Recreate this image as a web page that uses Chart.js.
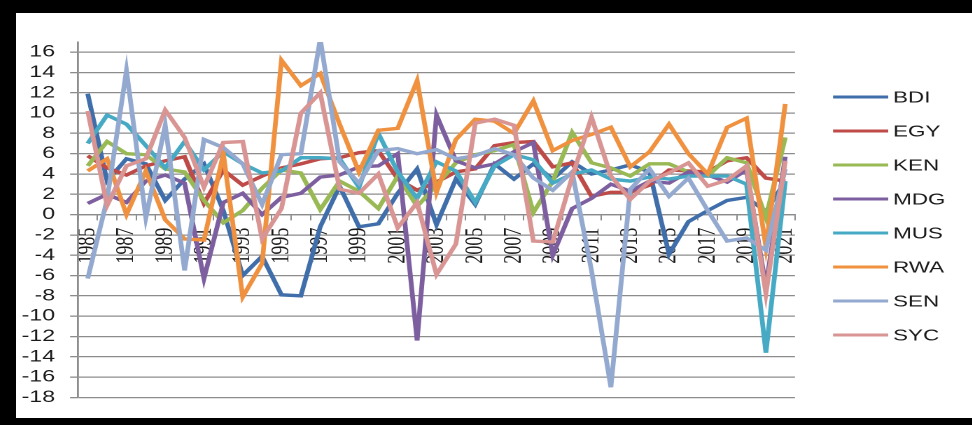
<!DOCTYPE html>
<html>
<head>
<meta charset="utf-8">
<script src="https://cdn.jsdelivr.net/npm/chart.js@4.4.1/dist/chart.umd.min.js"></script>
<style>
  html, body { margin: 0; padding: 0; background: #000; }
  #frame { position: absolute; left: 0; top: 0; width: 972px; height: 425px; background: #000; overflow: hidden; }
  #sheet { position: absolute; left: 16px; top: 13px; width: 956px; height: 405px; background: #fff; overflow: hidden; }
  /* the sheet is drawn narrow and widened 1.4x, like a stretched spreadsheet chart */
  #stretch { position: absolute; left: 0; top: 0; width: 683px; height: 405px; transform: scaleX(1.4); transform-origin: 0 0; }
  canvas { display: block; }
</style>
</head>
<body>
<div id="frame"><div id="sheet"><div id="stretch">
  <canvas id="growth" width="683" height="405" style="width:683px;height:405px"></canvas>
</div></div></div>
<script>
// Annual real GDP growth (%), 1985-2021
const years = ['1985','1986','1987','1988','1989','1990','1991','1992','1993','1994',
  '1995','1996','1997','1998','1999','2000','2001','2002','2003','2004',
  '2005','2006','2007','2008','2009','2010','2011','2012','2013','2014',
  '2015','2016','2017','2018','2019','2020','2021'];

const BDI = [11.9, 3.3, 5.5, 5.0, 1.4, 3.5, 5.0, 0.4, -6.0, -4.1, -7.9, -8.0, -1.2, 2.8, -1.2, -0.9, 2.1, 4.5, -1.0, 3.5,
  1.0, 5.0, 3.5, 5.0, 3.5, 5.2, 4.0, 4.4, 4.9, 4.2, -3.9, -0.7, 0.4, 1.4, 1.7, 0.3, 3.3];
const EGY = [5.8, 4.6, 3.9, 4.8, 5.3, 5.7, 1.1, 4.4, 2.9, 3.8, 4.6, 5.0, 5.5, 5.6, 6.1, 6.3, 3.5, 2.4, 3.2, 4.2,
  4.5, 6.8, 7.1, 7.2, 4.7, 5.1, 1.8, 2.2, 2.2, 2.9, 4.4, 4.3, 4.2, 5.3, 5.6, 3.6, 3.3];
const KEN = [4.8, 7.2, 6.0, 5.9, 4.5, 4.2, 1.4, -0.8, 0.4, 2.6, 4.4, 4.1, 0.5, 3.3, 2.3, 0.6, 3.8, 0.8, 2.9, 5.1,
  5.9, 6.3, 6.9, 0.2, 3.3, 8.1, 5.1, 4.6, 3.8, 5.0, 5.0, 4.2, 3.8, 5.6, 5.1, -0.3, 7.6];
const MDG = [1.1, 2.0, 1.2, 3.3, 3.9, 3.1, -6.3, 1.2, 2.1, 0.0, 1.7, 2.1, 3.7, 3.9, 4.7, 4.8, 6.0, -12.4, 9.8, 5.3,
  4.6, 5.0, 6.2, 7.1, -4.0, 0.6, 1.6, 3.0, 2.3, 3.3, 3.1, 4.2, 3.9, 3.2, 4.4, -7.1, 5.7];
const MUS = [7.0, 9.8, 8.9, 6.8, 4.6, 7.2, 4.4, 6.2, 5.0, 4.1, 4.3, 5.6, 5.6, 5.5, 2.7, 8.0, 4.2, 1.6, 5.2, 4.3,
  1.2, 4.8, 5.9, 5.4, 3.1, 4.0, 4.4, 3.5, 3.3, 3.7, 3.5, 3.8, 3.8, 3.8, 3.0, -13.6, 3.3];
const RWA = [4.3, 5.5, 0.0, 4.3, -0.5, -2.4, -2.5, 6.0, -8.1, -4.8, 15.2, 12.7, 13.9, 8.9, 4.2, 8.3, 8.5, 13.2, 2.2, 7.4,
  9.4, 9.2, 8.0, 11.2, 6.3, 7.3, 7.9, 8.6, 4.7, 6.2, 8.9, 6.0, 4.0, 8.6, 9.5, -3.2, 10.9];
const SEN = [-6.3, 1.5, 14.2, -0.3, 8.8, -5.5, 7.4, 6.6, 5.0, 1.0, 5.9, 6.0, 17.3, 5.2, 3.1, 6.3, 6.5, 6.0, 6.4, 5.5,
  5.8, 6.5, 5.9, 3.6, 2.4, 4.2, -5.5, -17.0, 2.5, 4.5, 1.8, 3.6, 0.4, -2.6, -2.3, -3.5, 4.5];
const SYC = [10.2, 0.9, 4.8, 5.5, 10.3, 7.6, 2.7, 7.1, 7.2, -2.4, 0.6, 10.0, 12.0, 2.5, 2.1, 4.0, -1.3, 1.2, -5.9, -2.9,
  9.0, 9.4, 8.8, -2.6, -2.7, 3.7, 9.6, 3.8, 1.5, 3.3, 4.1, 5.1, 2.8, 3.4, 4.8, -7.8, 5.3];

const seriesNames = ['BDI', 'EGY', 'KEN', 'MDG', 'MUS', 'RWA', 'SEN', 'SYC'];
const seriesValues = [BDI, EGY, KEN, MDG, MUS, RWA, SEN, SYC];
const seriesColors = ['#3f6eaa', '#be4b48', '#98b954', '#7d5fa0', '#46aac5', '#f0913f', '#93a9cf', '#d89593'];

// y axis labels: even values from -18 to 16; the axis itself runs up to 17
const yTicks = [-18, -16, -14, -12, -10, -8, -6, -4, -2, 0, 2, 4, 6, 8, 10, 12, 14, 16];
const yMin = -18, yMax = 17;

// Right-hand legend: short line sample followed by the country code
const sideLegend = {
  id: 'sideLegend',
  afterDraw(chart) {
    const ctx = chart.ctx;
    const lineX0 = chart.chartArea.right + 27.2;
    const lineX1 = lineX0 + 39.4;
    const textX = lineX1 + 3.5;
    const top = 84, gap = 34;
    ctx.save();
    ctx.font = '16px "Liberation Sans", Arial, sans-serif';
    ctx.textBaseline = 'middle';
    ctx.textAlign = 'left';
    chart.data.datasets.forEach((ds, i) => {
      const y = top + gap * i;
      ctx.strokeStyle = ds.borderColor;
      ctx.lineWidth = 3;
      ctx.beginPath();
      ctx.moveTo(lineX0, y);
      ctx.lineTo(lineX1, y);
      ctx.stroke();
      ctx.fillStyle = '#1a1a1a';
      ctx.fillText(ds.label, textX, y + 1);
    });
    ctx.restore();
  }
};

const gridGray = '#8c8c8c';

new Chart(document.getElementById('growth'), {
  type: 'line',
  data: {
    labels: years,
    datasets: seriesNames.map((name, i) => ({
      label: name,
      data: seriesValues[i],
      borderColor: seriesColors[i],
      backgroundColor: seriesColors[i],
      borderWidth: 3.4,
      pointRadius: 0,
      tension: 0,
      fill: false,
      order: seriesNames.length - i
    }))
  },
  options: {
    responsive: false,
    animation: false,
    devicePixelRatio: 2,
    layout: { padding: { left: 0, right: 126.6, top: 29, bottom: 11 } },
    plugins: { legend: { display: false }, tooltip: { enabled: false } },
    scales: {
      x: {
        type: 'category',
        position: { y: 0 },
        offset: true,
        grid: { display: true, drawOnChartArea: false, drawTicks: true, tickLength: 5, offset: true, color: gridGray, lineWidth: 1 },
        border: { display: true, color: gridGray, width: 1.4 },
        ticks: {
          autoSkip: false, maxRotation: 90, minRotation: 90, padding: 8,
          color: '#1a1a1a',
          font: { family: '"Liberation Serif", "Times New Roman", serif', size: 18 },
          callback(value, index) { return index % 2 === 0 ? this.getLabelForValue(value) : ''; }
        }
      },
      y: {
        min: yMin, max: yMax,
        afterBuildTicks(scale) { scale.ticks = yTicks.map(v => ({ value: v })); },
        afterFit(scale) { scale.width = 44.3; },
        grid: { color: gridGray, lineWidth: 1.3, drawTicks: true, tickLength: 5.7 },
        border: { display: true, color: gridGray, width: 1.4 },
        ticks: {
          autoSkip: false, padding: 10.7, color: '#1a1a1a',
          font: { family: '"Liberation Sans", Arial, sans-serif', size: 16.5 }
        }
      }
    }
  },
  plugins: [sideLegend]
});
</script>
</body>
</html>
